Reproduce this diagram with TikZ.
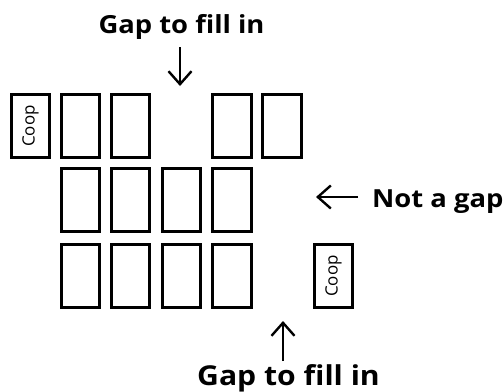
\documentclass[tikz,border=0pt]{standalone}
\usepackage{fontspec}
\setmainfont{Open Sans}
\newfontfamily\lblfont[FakeStretch=1.1]{Open Sans}
\usetikzlibrary{arrows.meta}
\tikzset{
  spot/.style={draw, line width=2.6bp, minimum width=38.5bp, minimum height=63.5bp, inner sep=0pt},
  cooptext/.style={rotate=90, font=\fontsize{17}{17}\selectfont},
  lbl/.style={font=\lblfont\bfseries\fontsize{25}{25}\selectfont, inner sep=0pt},
  biglbl/.style={font=\lblfont\bfseries\fontsize{27.5}{27.5}\selectfont, inner sep=0pt},
  arr/.style={line width=2.4bp, -{Straight Barb[length=13bp,width=23bp]}}
}
\begin{document}
\begin{tikzpicture}[x=1bp,y=-1bp]
\useasboundingbox (0,0) rectangle (504,391);
% row 1
\node[spot] (r1c0) at (30.5,126) {};
\node[cooptext] (coop1) at (r1c0.center) {Coop};
\node[spot] (r1c1) at (80.5,126) {};
\node[spot] (r1c2) at (130.5,126) {};
\node[spot] (r1c4) at (232,126) {};
\node[spot] (r1c5) at (282,126) {};
% row 2
\node[spot] (r2c1) at (80.5,200) {};
\node[spot] (r2c2) at (130.5,200) {};
\node[spot] (r2c3) at (181.5,200) {};
\node[spot] (r2c4) at (232,200) {};
% row 3
\node[spot] (r3c1) at (80.5,276) {};
\node[spot] (r3c2) at (130.5,276) {};
\node[spot] (r3c3) at (181.5,276) {};
\node[spot] (r3c4) at (232,276) {};
\node[spot] (r3c6) at (333.5,276) {};
\node[cooptext] (coop2) at (r3c6.center) {Coop};
% labels
\node[lbl, anchor=base] (top) at (181.5,33) {Gap to fill in};
\coordinate (topS) at (180,47);
\coordinate (topE) at (180,86);
\draw[arr] (topS) -- (topE);
\node[lbl, anchor=base west] (notgap) at (372,207) {Not a gap};
\coordinate (midS) at (358,197);
\coordinate (midE) at (316,197);
\draw[arr] (midS) -- (midE);
\node[biglbl, anchor=base] (bot) at (288.5,385) {Gap to fill in};
\coordinate (botS) at (283,361);
\coordinate (botE) at (283,321);
\draw[arr] (botS) -- (botE);
\end{tikzpicture}
\end{document}
